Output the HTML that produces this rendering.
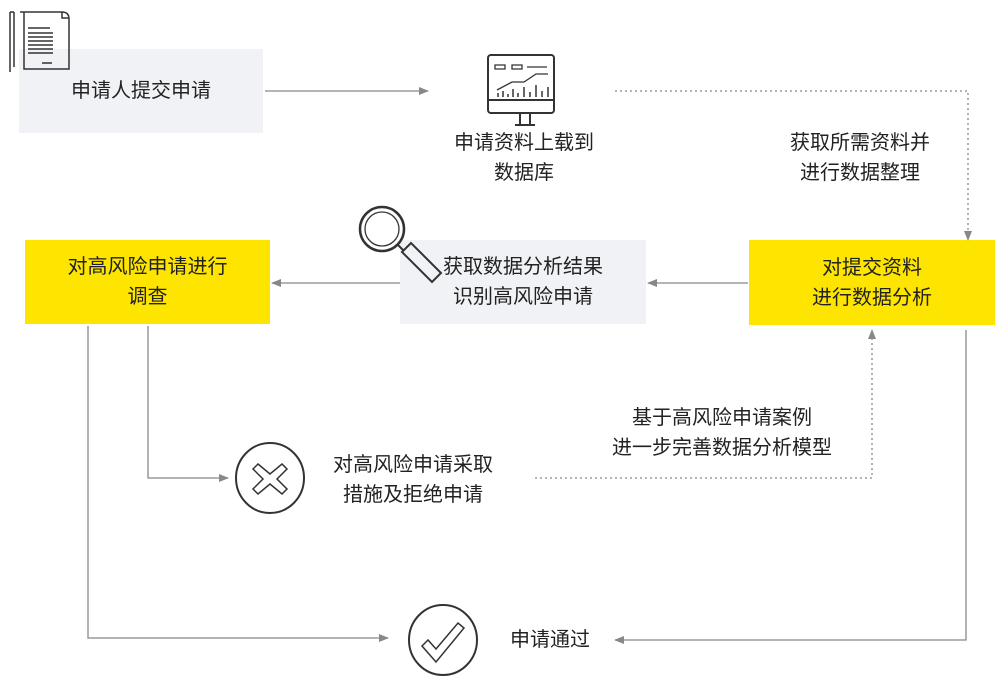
<!DOCTYPE html>
<html><head><meta charset="utf-8"><style>
body{margin:0;background:#fff;width:1002px;height:688px;overflow:hidden;position:relative;font-family:"Liberation Sans","Noto Sans CJK SC",sans-serif;color:#222}
.b{position:absolute;display:flex;align-items:center;justify-content:center;text-align:center;font-size:20px;line-height:30px}
.g{background:#f1f2f6}.y{background:#fde500}
.t{position:absolute;font-size:20px;line-height:30px;text-align:center;white-space:nowrap}
</style></head><body>
<div class="b g" style="left:19px;top:49px;width:244px;height:84px">申请人提交申请</div>
<div class="b g" style="left:400px;top:240px;width:246px;height:84px">获取数据分析结果<br>识别高风险申请</div>
<div class="b y" style="left:749px;top:240px;width:246px;height:85px">对提交资料<br>进行数据分析</div>
<div class="b y" style="left:25px;top:240px;width:245px;height:84px">对高风险申请进行<br>调查</div>
<div class="t" style="left:424px;top:128px;width:200px">申请资料上载到<br>数据库</div>
<div class="t" style="left:760px;top:128px;width:200px">获取所需资料并<br>进行数据整理</div>
<div class="t" style="left:313px;top:450px;width:200px">对高风险申请采取<br>措施及拒绝申请</div>
<div class="t" style="left:592px;top:403px;width:260px">基于高风险申请案例<br>进一步完善数据分析模型</div>
<div class="t" style="left:500px;top:625px;width:100px">申请通过</div>
<svg width="1002" height="688" style="position:absolute;left:0;top:0" fill="none" stroke="#888" stroke-width="1.3">
<defs><marker id="a" markerWidth="10" markerHeight="10" refX="9" refY="5" orient="auto" markerUnits="userSpaceOnUse"><path d="M0,1 L10,5 L0,9z" fill="#888" stroke="none"/></marker></defs>
<path d="M265 91H428" marker-end="url(#a)"/>
<path d="M615 91H968V240" stroke-dasharray="2 3" marker-end="url(#a)"/>
<path d="M748 283H648" marker-end="url(#a)"/>
<path d="M400 283H272" marker-end="url(#a)"/>
<path d="M88 326V638H388" marker-end="url(#a)"/>
<path d="M148 326V478H228" marker-end="url(#a)"/>
<path d="M535 478H872V330" stroke-dasharray="2 3" marker-end="url(#a)"/>
<path d="M966 330V640H615" marker-end="url(#a)"/>
<g stroke="#333" stroke-width="2">
<ellipse cx="270" cy="478" rx="34" ry="35"/>
<path d="M258 464l12 10 12-10 5 5-10 10 10 10-5 5-12-10-12 10-5-5 10-10-10-10z" stroke-width="1.5"/>
<ellipse cx="443" cy="640" rx="34" ry="35"/>
<path d="M428 640l-6 6 14 16 28-34-6-5-22 26z" stroke-width="1.5"/>
<rect x="426" y="55" width="66" height="58" rx="3" transform="translate(62 0)"/>
<path d="M488 100H555M515 125H535M520 113V125M530 113V125"/>
<path d="M495 65h10v4h-10zM512 65h10v4h-10zM527 67h20M497 90l15-8 12 0 12-8 12 0" stroke-width="1.3"/>
<path d="M498 97v-4M503 97v-6M508 97v-3M513 97v-8M518 97v-4M524 97v-10M530 97v-5M536 97v-12M542 97v-6M548 97v-10" stroke-width="1.5"/>
<circle cx="382" cy="229" r="22" stroke-width="2.5"/>
<circle cx="382" cy="229" r="17" stroke-width="1.3"/>
<path d="M398 245l6 6M402 252l9-9 30 30-9 9z"/>
<path d="M20 12h42q7 0 7 7v50h-45v-57z M62 12v6h7" stroke-width="1.5"/>
<path d="M10 12v60 M14 12v55 M10 12h4" stroke-width="1.5"/>
<path d="M28 28h22M28 33h25M28 37h25M28 41h25M28 45h25M28 49h25M28 53h25M42 63h10" stroke-width="1.5"/>
</g>
</svg>
</body></html>
